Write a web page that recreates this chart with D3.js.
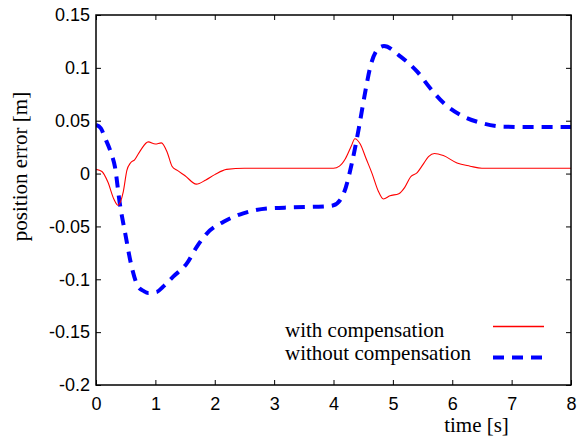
<!DOCTYPE html>
<html><head><meta charset="utf-8">
<script src="https://cdn.jsdelivr.net/npm/d3@7"></script>
<style>body{margin:0;background:#fff}svg{display:block}</style>
</head><body><svg id="c" width="585" height="441"></svg>
<script>
const redT = [0,0.1,0.2,0.3,0.37,0.46,0.52,0.58,0.65,0.75,0.88,1.0,1.1,1.2,1.28,1.37,1.5,1.69,1.85,2.0,2.2,2.5,3,3.5,4.0,4.1,4.2,4.3,4.36,4.45,4.55,4.65,4.75,4.84,4.95,5.1,5.2,5.3,5.41,5.5,5.6,5.7,5.85,6.08,6.3,6.5,7,8];
const redV = [0.004,0.002,-0.008,-0.024,-0.030,-0.017,0.003,0.010,0.013,0.022,0.030,0.028,0.029,0.020,0.007,0.003,-0.002,-0.010,-0.006,-0.001,0.004,0.005,0.005,0.005,0.005,0.007,0.014,0.026,0.033,0.028,0.014,0.000,-0.016,-0.024,-0.021,-0.019,-0.013,-0.003,0.001,0.008,0.016,0.019,0.017,0.010,0.007,0.005,0.005,0.005];
const blueT = [0,0.08,0.15,0.25,0.32,0.40,0.49,0.60,0.71,0.80,0.88,1.02,1.15,1.30,1.53,1.70,1.87,2.15,2.48,2.88,3.3,3.86,4.0,4.17,4.31,4.43,4.54,4.62,4.76,4.85,5.13,5.41,5.63,5.86,6.14,6.48,6.87,7.3,8];
const blueV = [0.046,0.043,0.034,0.020,0.006,-0.028,-0.056,-0.088,-0.107,-0.111,-0.113,-0.112,-0.106,-0.0975,-0.085,-0.069,-0.0565,-0.0455,-0.0376,-0.033,-0.032,-0.031,-0.030,-0.019,0.010,0.044,0.079,0.101,0.1185,0.1207,0.1106,0.0964,0.0807,0.0665,0.0554,0.048,0.0444,0.044,0.044];
const xTicks = [0,1,2,3,4,5,6,7,8];
const yTicks = [-0.2,-0.15,-0.1,-0.05,0,0.05,0.1,0.15];
const yTickLabels = ["-0.2","-0.15","-0.1","-0.05","0","0.05","0.1","0.15"];
const seriesNames = ["with compensation","without compensation"];

const svg = d3.select("#c");
const L=96,R=571,T=15,B=385;
const x = d3.scaleLinear().domain([0,8]).range([L,R]);
const y = d3.scaleLinear().domain([-0.2,0.15]).range([B,T]);
const sans = "'Liberation Sans', Arial, sans-serif";
const serif = "'Liberation Serif', 'Times New Roman', serif";

const line = d3.line().x(d=>x(d[0])).y(d=>y(d[1])).curve(d3.curveMonotoneX);
svg.append("clipPath").attr("id","cp").append("rect").attr("x",L).attr("y",T).attr("width",R-L).attr("height",B-T);
const g = svg.append("g").attr("clip-path","url(#cp)");
g.append("path").datum(blueT.map((t,i)=>[t,blueV[i]])).attr("d",line)
 .attr("fill","none").attr("stroke","#0000ff").attr("stroke-width",4).attr("stroke-dasharray","11,8");
g.append("path").datum(redT.map((t,i)=>[t,redV[i]])).attr("d",line)
 .attr("fill","none").attr("stroke","#ff0000").attr("stroke-width",1.1);

// axes
const tl=5;
const ax = svg.append("g").attr("transform",`translate(0,${B})`).call(d3.axisBottom(x).tickValues(xTicks).tickSize(-tl).tickFormat(d3.format("d")).tickPadding(12));
const axT = svg.append("g").attr("transform",`translate(0,${T})`).call(d3.axisTop(x).tickValues(xTicks).tickSize(-tl).tickFormat(""));
const ay = svg.append("g").attr("transform",`translate(${L},0)`).call(d3.axisLeft(y).tickValues(yTicks).tickSize(-tl).tickFormat((d,i)=>yTickLabels[i]).tickPadding(6));
const ayR = svg.append("g").attr("transform",`translate(${R},0)`).call(d3.axisRight(y).tickValues(yTicks).tickSize(-tl).tickFormat(""));
[ax,axT,ay,ayR].forEach(a=>{a.select(".domain").remove();a.selectAll("line").attr("stroke","#000");});
[ax,ay].forEach(a=>a.selectAll("text").attr("font-family",sans).attr("font-size",18).attr("fill","#000"));
svg.append("rect").attr("x",L).attr("y",T).attr("width",R-L).attr("height",B-T).attr("fill","none").attr("stroke","#000").attr("stroke-width",1.5);

svg.append("text").attr("x",476.5).attr("y",431.5).attr("text-anchor","middle").attr("font-family",serif).attr("font-size",21).text("time [s]");
svg.append("text").attr("transform","translate(27,166.5) rotate(-90)").attr("text-anchor","middle").attr("font-family",serif).attr("font-size",21).text("position error [m]");

// legend
const lg = svg.append("g");
lg.append("text").attr("x",285).attr("y",336.5).attr("font-family",serif).attr("font-size",21).text(seriesNames[0]);
lg.append("text").attr("x",285).attr("y",360).attr("font-family",serif).attr("font-size",21).text(seriesNames[1]);
lg.append("line").attr("x1",493).attr("x2",544).attr("y1",326.5).attr("y2",326.5).attr("stroke","#ff0000").attr("stroke-width",1.3);
lg.append("line").attr("x1",493).attr("x2",544).attr("y1",357.5).attr("y2",357.5).attr("stroke","#0000ff").attr("stroke-width",4).attr("stroke-dasharray","11,8");
</script></body></html>
